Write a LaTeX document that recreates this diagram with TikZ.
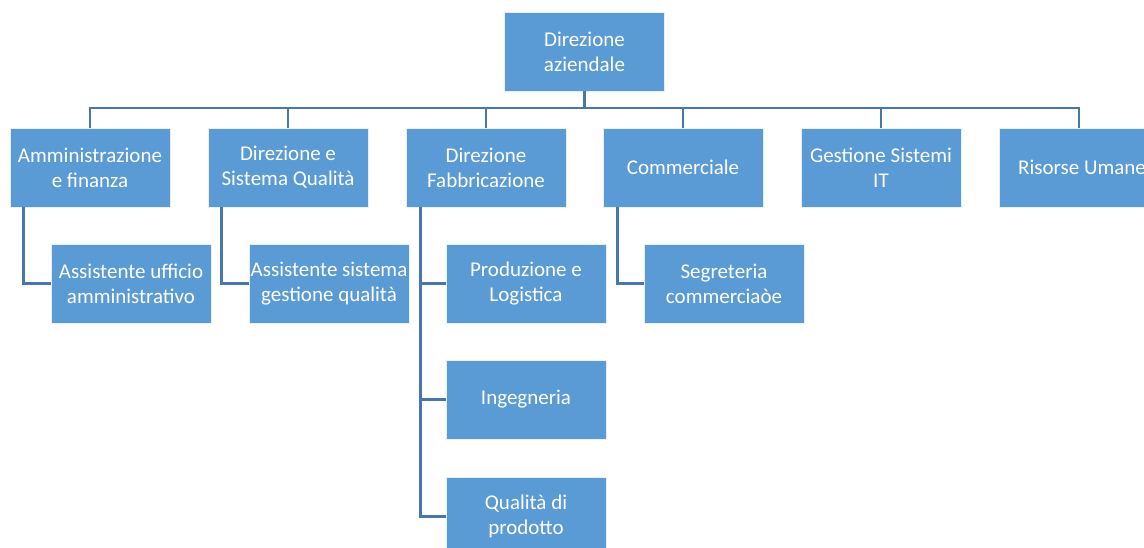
\documentclass[tikz,border=0pt]{standalone}
\usepackage{fontspec}
\setmainfont{Carlito}
\definecolor{boxblue}{HTML}{5B9BD5}
\definecolor{lineblue}{HTML}{4678AF}
\begin{document}
\begin{tikzpicture}[x=1pt,y=-1pt,
  box/.style={rectangle, fill=boxblue, draw=white!85!boxblue, line width=0.8pt,
    minimum width=160pt, minimum height=79pt, inner sep=0pt, align=center,
    text=white, font=\fontsize{21}{25}\selectfont},
  conn/.style={draw=lineblue, line width=2.6pt}]
\useasboundingbox (0,0) rectangle (1144,547);
\clip (0,0) rectangle (1144,547);
% top
\node[box] (top) at (584.5,51.5) {Direzione\\aziendale};
% level 2
\node[box] (n1) at (90,167.5) {Amministrazione\\e finanza};
\node[box] (n2) at (288,167.5) {Direzione e\\Sistema Qualità};
\node[box] (n3) at (486,167.5) {Direzione\\Fabbricazione};
\node[box] (n4) at (683,167.5) {Commerciale};
\node[box] (n5) at (881,167.5) {Gestione Sistemi\\IT};
\node[box] (n6) at (1079,167.5) {\hspace*{6pt}Risorse Umane};
% level 3
\node[box] (c1) at (131,283.5) {Assistente ufficio\\amministrativo};
\node[box] (c2) at (329,283.5) {Assistente sistema\\gestione qualità};
\node[box] (c3) at (526,283.5) {Produzione e\\Logistica};
\node[box] (c4) at (526,399.5) {Ingegneria};
\node[box] (c5) at (526,516.5) {Qualità di\\prodotto};
\node[box] (c6) at (724,283.5) {Segreteria\\commerciaòe};
% connectors
\coordinate (bus) at (0,108);
\draw[conn] (top.south) -- (top.south |- bus);
\draw[conn] (n1.north) |- (n6.north |- bus) -- (n6.north);
\draw[conn] (n2.north) -- (n2.north |- bus);
\draw[conn] (n3.north) -- (n3.north |- bus);
\draw[conn] (n4.north) -- (n4.north |- bus);
\draw[conn] (n5.north) -- (n5.north |- bus);
\draw[conn] ([xshift=14pt]n1.south west) |- (c1.west);
\draw[conn] ([xshift=14pt]n2.south west) |- (c2.west);
\draw[conn] ([xshift=15pt]n3.south west) |- (c5.west);
\draw[conn] ([xshift=15pt]n3.south west |- c3.west) -- (c3.west);
\draw[conn] ([xshift=15pt]n3.south west |- c4.west) -- (c4.west);
\draw[conn] ([xshift=15pt]n4.south west) |- (c6.west);
\end{tikzpicture}
\end{document}
